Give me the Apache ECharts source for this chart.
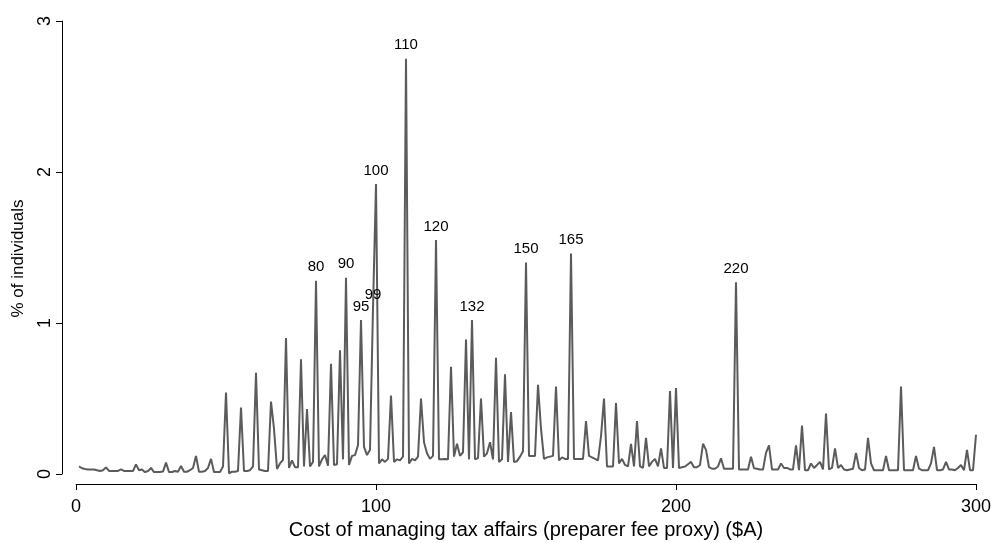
<!DOCTYPE html>
<html>
<head>
<meta charset="utf-8">
<script src="https://cdn.jsdelivr.net/npm/echarts@6/dist/echarts.min.js"></script>
<style>
html,body{margin:0;padding:0;background:#fff;}
#chart{width:995px;height:543px;}
</style>
</head>
<body>
<div id="chart"></div>
<script>
// Fee values in $A start at 1 and increase by 1 for each entry of pctIndividuals
var feeStart = 1;
var pctIndividuals = [
0.05,0.038,0.033,0.03,0.03,0.03,0.025,0.02,0.025,0.044,
0.02,0.02,0.02,0.02,0.03,0.02,0.02,0.02,0.02,0.064,
0.025,0.03,0.012,0.02,0.04,0.013,0.013,0.013,0.016,0.075,
0.013,0.013,0.02,0.015,0.053,0.015,0.015,0.025,0.04,0.12,
0.015,0.015,0.02,0.04,0.10,0.013,0.013,0.013,0.05,0.54,
0.005,0.015,0.015,0.02,0.44,0.02,0.02,0.025,0.05,0.67,
0.03,0.025,0.02,0.02,0.48,0.30,0.033,0.07,0.093,0.90,
0.04,0.09,0.045,0.045,0.76,0.05,0.43,0.05,0.08,1.28,
0.05,0.097,0.126,0.055,0.73,0.06,0.065,0.82,0.097,1.30,
0.06,0.12,0.125,0.19,1.02,0.18,0.125,0.16,1.10,1.92,
0.07,0.097,0.08,0.10,0.52,0.08,0.097,0.09,0.115,2.75,
0.07,0.10,0.09,0.115,0.50,0.21,0.137,0.10,0.12,1.55,
0.097,0.097,0.10,0.097,0.71,0.115,0.20,0.12,0.144,0.89,
0.097,1.02,0.097,0.105,0.50,0.115,0.137,0.21,0.097,0.77,
0.08,0.097,0.66,0.08,0.41,0.08,0.085,0.115,0.15,1.40,
0.12,0.12,0.12,0.59,0.30,0.10,0.11,0.115,0.12,0.58,
0.09,0.11,0.10,0.10,1.46,0.10,0.10,0.10,0.10,0.35,
0.12,0.11,0.10,0.09,0.25,0.50,0.05,0.05,0.05,0.47,
0.07,0.10,0.06,0.05,0.20,0.05,0.35,0.05,0.04,0.24,
0.05,0.08,0.10,0.05,0.17,0.04,0.04,0.55,0.04,0.57,
0.04,0.045,0.05,0.065,0.08,0.045,0.045,0.06,0.20,0.16,
0.045,0.035,0.035,0.05,0.104,0.035,0.035,0.035,0.035,1.27,
0.03,0.03,0.03,0.03,0.115,0.038,0.035,0.03,0.03,0.14,
0.19,0.03,0.03,0.03,0.07,0.04,0.04,0.03,0.03,0.19,
0.025,0.32,0.025,0.025,0.07,0.04,0.06,0.08,0.03,0.40,
0.03,0.04,0.17,0.04,0.06,0.03,0.025,0.03,0.035,0.14,
0.04,0.025,0.03,0.24,0.07,0.025,0.025,0.025,0.025,0.12,
0.025,0.025,0.025,0.025,0.58,0.025,0.025,0.025,0.025,0.12,
0.035,0.025,0.025,0.025,0.07,0.18,0.025,0.025,0.03,0.08,
0.03,0.03,0.025,0.04,0.06,0.025,0.16,0.025,0.025,0.26
];
var labelledFees = [80, 90, 95, 99, 100, 110, 120, 132, 150, 165, 220];
var xTicks = [0, 100, 200, 300];
var yTicks = [0, 1, 2, 3];
var xTitle = 'Cost of managing tax affairs (preparer fee proxy) ($A)';
var yTitle = '% of individuals';

var lineData = pctIndividuals.map(function (v, i) {
  return [feeStart + i, v];
});
var labelData = lineData.filter(function (d) {
  return labelledFees.indexOf(d[0]) >= 0;
});

var font = 'Liberation Sans, Arial, Helvetica, sans-serif';
var chart = echarts.init(document.getElementById('chart'), null, { renderer: 'canvas' });
chart.setOption({
  animation: false,
  backgroundColor: '#ffffff',
  grid: { left: 76, right: 19, top: 21, bottom: 69, containLabel: false, outerBoundsMode: 'none' },
  xAxis: {
    type: 'value',
    min: xTicks[0], max: xTicks[xTicks.length - 1], interval: 100,
    offset: 10,
    name: xTitle, nameLocation: 'middle', nameGap: 24,
    nameTextStyle: { fontFamily: font, fontSize: 20, color: '#000' },
    axisLine: { show: true, onZero: false, lineStyle: { color: '#000', width: 1 } },
    axisTick: { show: true, length: 6, lineStyle: { color: '#000' } },
    axisLabel: { fontFamily: font, fontSize: 18, color: '#000', margin: 14 },
    splitLine: { show: false }
  },
  yAxis: {
    type: 'value',
    min: yTicks[0], max: yTicks[yTicks.length - 1], interval: 1,
    offset: 14,
    name: yTitle, nameLocation: 'middle', nameGap: 35, nameRotate: 90,
    nameTextStyle: { fontFamily: font, fontSize: 17, color: '#000', padding: [0, 22, 0, 0] },
    axisLine: { show: true, onZero: false, lineStyle: { color: '#000', width: 1 } },
    axisTick: { show: true, length: 6, lineStyle: { color: '#000' } },
    axisLabel: { fontFamily: font, fontSize: 18, color: '#000', rotate: 90, margin: 8 },
    splitLine: { show: false }
  },
  series: [{
    type: 'line',
    data: lineData,
    showSymbol: false,
    symbol: 'none',
    lineStyle: { color: '#5b5b5b', width: 2 },
    z: 2
  }, {
    type: 'scatter',
    data: labelData,
    symbol: 'circle',
    symbolSize: 2,
    itemStyle: { color: 'rgba(0,0,0,0)' },
    label: { show: true, position: 'top', distance: 5, fontFamily: font, fontSize: 15, color: '#000', opacity: 1,
      formatter: function (p) { return String(p.value[0]); } },
    labelLayout: { hideOverlap: false },
    z: 3
  }]
});
</script>
</body>
</html>
